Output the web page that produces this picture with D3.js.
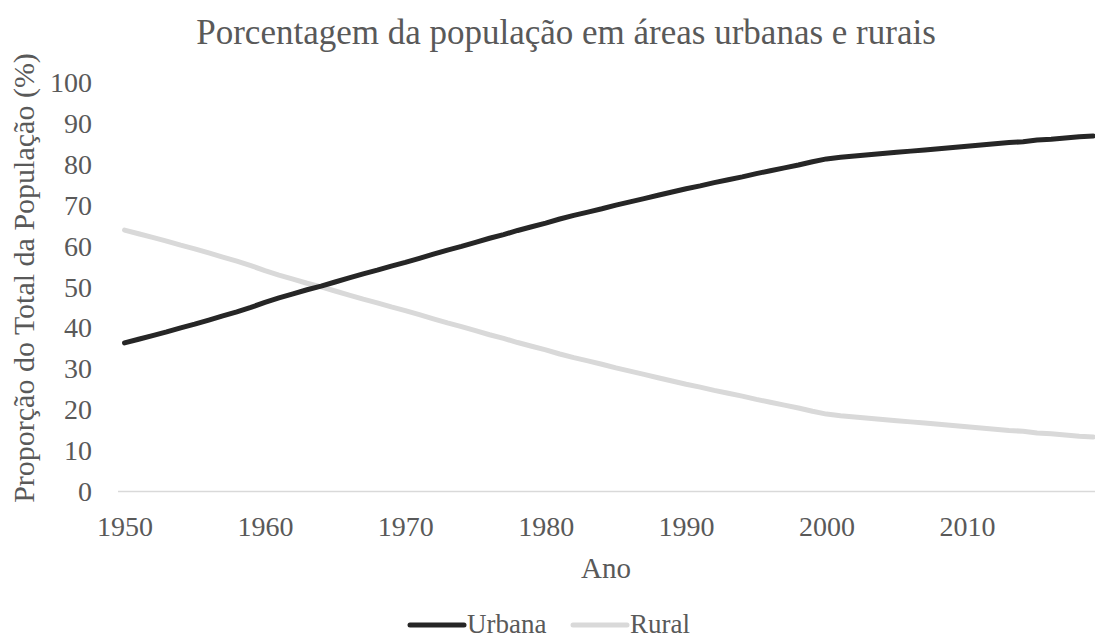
<!DOCTYPE html>
<html>
<head>
<meta charset="utf-8">
<script src="https://cdn.jsdelivr.net/npm/d3@7"></script>
<style>
  html, body { margin: 0; padding: 0; background: #fff; }
  svg { display: block; }
</style>
</head>
<body>
<svg id="chart"></svg>
<script>
var years = [
  1950, 1951, 1952, 1953, 1954, 1955, 1956, 1957, 1958, 1959,
  1960, 1961, 1962, 1963, 1964, 1965, 1966, 1967, 1968, 1969,
  1970, 1971, 1972, 1973, 1974, 1975, 1976, 1977, 1978, 1979,
  1980, 1981, 1982, 1983, 1984, 1985, 1986, 1987, 1988, 1989,
  1990, 1991, 1992, 1993, 1994, 1995, 1996, 1997, 1998, 1999,
  2000, 2001, 2002, 2003, 2004, 2005, 2006, 2007, 2008, 2009,
  2010, 2011, 2012, 2013, 2014, 2015, 2016, 2017, 2018, 2019
];
var urbana = [
  36.2, 37.1, 38.0, 38.9, 39.9, 40.8, 41.8, 42.8, 43.8, 44.9,
  46.1, 47.2, 48.2, 49.2, 50.1, 51.1, 52.1, 53.1, 54.0, 55.0,
  55.9, 56.9, 57.9, 58.9, 59.8, 60.8, 61.8, 62.7, 63.7, 64.6,
  65.5, 66.5, 67.4, 68.2, 69.0, 69.9, 70.7, 71.5, 72.3, 73.1,
  73.9, 74.6, 75.4, 76.1, 76.8, 77.6, 78.3, 79.0, 79.7, 80.5,
  81.2, 81.6, 81.9, 82.2, 82.5, 82.8, 83.1, 83.4, 83.7, 84.0,
  84.3, 84.6, 84.9, 85.2, 85.4, 85.8, 86.0, 86.3, 86.6, 86.8
];
var rural = [
  63.8, 62.9, 62.0, 61.1, 60.1, 59.2, 58.2, 57.2, 56.2, 55.1,
  53.9, 52.8, 51.8, 50.8, 49.9, 48.9, 47.9, 46.9, 46.0, 45.0,
  44.1, 43.1, 42.1, 41.1, 40.2, 39.2, 38.2, 37.3, 36.3, 35.4,
  34.5, 33.5, 32.6, 31.8, 31.0, 30.1, 29.3, 28.5, 27.7, 26.9,
  26.1, 25.4, 24.6, 23.9, 23.2, 22.4, 21.7, 21.0, 20.3, 19.5,
  18.8, 18.4, 18.1, 17.8, 17.5, 17.2, 16.9, 16.6, 16.3, 16.0,
  15.7, 15.4, 15.1, 14.8, 14.6, 14.2, 14.0, 13.7, 13.4, 13.2
];
var yTicks = [0, 10, 20, 30, 40, 50, 60, 70, 80, 90, 100];
var xTicks = [1950, 1960, 1970, 1980, 1990, 2000, 2010];
var seriesNames = ['Urbana', 'Rural'];
var colors = ['#262626', '#d9d9d9'];

var width = 1095, height = 641,
  font = "'Liberation Serif', 'Times New Roman', serif",
  textColor = '#595959';

var svg = d3.select('#chart')
  .attr('width', width).attr('height', height)
  .attr('font-family', font);

// category axis: each year is a band, value sits in the middle
var xScale = d3.scaleLinear().domain([1949.5, 2019.5]).range([117.5, 1100.3]),
  yScale = d3.scaleLinear().domain([0, 100]).range([491, 82]);

// title
svg.append('text')
  .attr('x', 566).attr('y', 44)
  .attr('text-anchor', 'middle')
  .attr('fill', textColor)
  .style('font-size', '35px')
  .text('Porcentagem da população em áreas urbanas e rurais');

// y axis labels
var yAxis = d3.axisLeft(yScale).tickValues(yTicks).tickSize(0).tickPadding(0);
var gy = svg.append('g').attr('transform', 'translate(92, 0)').call(yAxis)
  .attr('font-family', font).attr('font-size', 28);
gy.select('.domain').remove();
gy.selectAll('text').attr('fill', textColor).attr('dy', '0.34em');

// x axis
var xAxis = d3.axisBottom(xScale).tickValues(xTicks).tickSize(0).tickPadding(0)
  .tickFormat(d3.format('d'));
var gx = svg.append('g').attr('transform', 'translate(0, 491)').call(xAxis)
  .attr('font-family', font).attr('font-size', 28);
gx.select('.domain').attr('stroke', '#d9d9d9').attr('stroke-width', 1.5);
gx.selectAll('text').attr('fill', textColor).attr('y', 45).attr('dy', 0);

// axis titles
svg.append('text')
  .attr('transform', 'translate(34, 278) rotate(-90)')
  .attr('text-anchor', 'middle')
  .attr('fill', textColor)
  .style('font-size', '30px')
  .text('Proporção do Total da População (%)');

svg.append('text')
  .attr('x', 606).attr('y', 578)
  .attr('text-anchor', 'middle')
  .attr('fill', textColor)
  .style('font-size', '29px')
  .text('Ano');

// lines
var line = d3.line()
  .x((d, i) => xScale(years[i]))
  .y((d) => yScale(d));

[rural, urbana].forEach(function (s, k) {
  var i = 1 - k;
  svg.append('path')
    .datum(s)
    .attr('fill', 'none')
    .attr('stroke', colors[i])
    .attr('stroke-width', 5)
    .attr('stroke-linecap', 'round')
    .attr('stroke-linejoin', 'round')
    .attr('d', line);
});

// legend (kept just inside the bottom edge)
var legendX = [410, 573];
seriesNames.forEach(function (name, i) {
  var lg = svg.append('g').attr('transform', 'translate(' + legendX[i] + ', 625)');
  lg.append('line')
    .attr('x1', 0).attr('x2', 54)
    .attr('stroke', colors[i]).attr('stroke-width', 5).attr('stroke-linecap', 'round');
  lg.append('text')
    .attr('x', 57).attr('y', 8)
    .attr('fill', textColor)
    .style('font-size', '27px')
    .text(name);
});
</script>
</body>
</html>
